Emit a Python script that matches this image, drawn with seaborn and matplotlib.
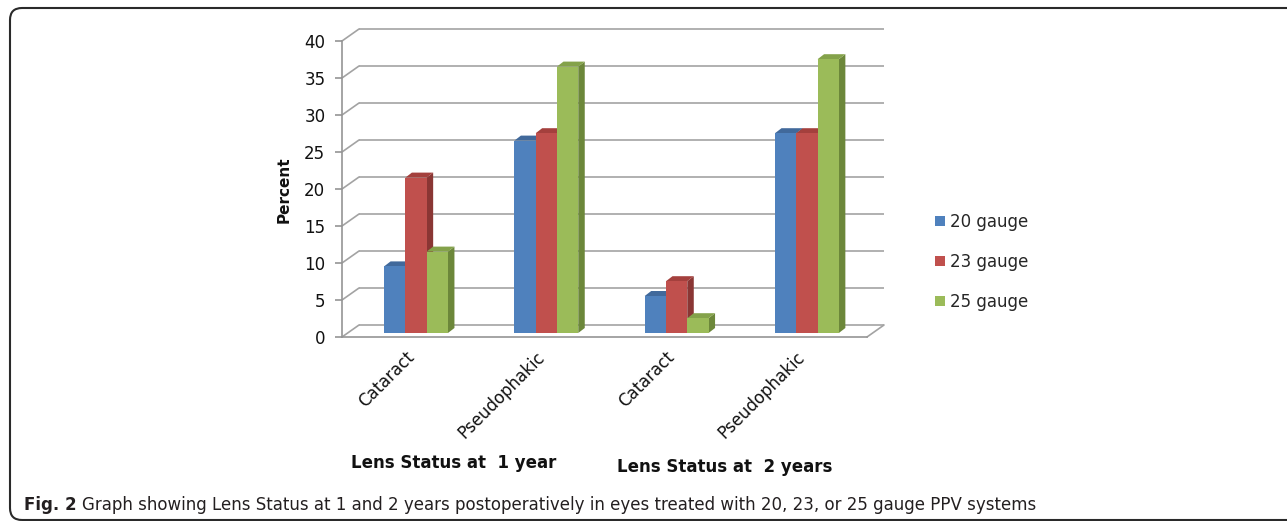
import numpy as np
import pandas as pd
import matplotlib
matplotlib.use("Agg")
import matplotlib.pyplot as plt
from matplotlib.patches import Polygon, FancyBboxPatch
from matplotlib.transforms import Affine2D, IdentityTransform
import seaborn as sns

# ---- data -------------------------------------------------------------
slots = ["1y_cataract", "1y_pseudophakic", "2y_cataract", "2y_pseudophakic"]
slot_labels = ["Cataract", "Pseudophakic", "Cataract", "Pseudophakic"]
period_titles = ["Lens Status at  1 year", "Lens Status at  2 years"]
gauges = ["20 gauge", "23 gauge", "25 gauge"]
gauge_20 = [9, 26, 5, 27]
gauge_23 = [21, 27, 7, 27]
gauge_25 = [11, 36, 2, 37]
y_ticks = [0, 5, 10, 15, 20, 25, 30, 35, 40]
caption_tag = "Fig. 2"
caption_text = ("Graph showing Lens Status at 1 and 2 years postoperatively in eyes "
                "treated with 20, 23, or 25 gauge PPV systems")

# ---- styling ----------------------------------------------------------
front_colors = ["#4F81BD", "#C0504D", "#9BBB59"]
top_colors = ["#41699B", "#A4403D", "#84A24A"]
side_colors = ["#355887", "#8A3634", "#6C873A"]
grid_color = "#A3A3A3"
axis_color = "#959595"

sns.set_style("white")
plt.rcParams["font.family"] = ["DejaVu Sans"]

df = pd.DataFrame({
    "slot": slots * 3,
    "gauge": np.repeat(gauges, len(slots)),
    "percent": gauge_20 + gauge_23 + gauge_25,
})

W, H = 1287, 521
fig = plt.figure(figsize=(W / 100, H / 100), dpi=100)
fig.patch.set_facecolor("white")

# plot frame (front plane of the pseudo-3D box), in pixels
left_px, right_px, zero_px, top_px = 342, 867, 337, 41
ax = fig.add_axes([left_px / W, (H - zero_px) / H,
                   (right_px - left_px) / W, (zero_px - top_px) / H])
ax.set_facecolor("none")

sns.barplot(data=df, x="slot", y="percent", hue="gauge", order=slots,
            hue_order=gauges, palette=front_colors, saturation=1,
            width=0.49, gap=0, errorbar=None, linewidth=0, ax=ax)

xl, xr = -0.522, 3.507
ax.set_xlim(xl, xr)
ax.set_ylim(0, 40)

ppu_x = (right_px - left_px) / (xr - xl)
ppu_y = (zero_px - top_px) / 40.0

# depth offsets (pixels -> data units)
BX, BY = 17 / ppu_x, 12 / ppu_y      # back wall
DX, DY = 6.5 / ppu_x, 5 / ppu_y      # bar depth
bar_shift = ax.transData + Affine2D().translate(6, 4)

# bars: front face from seaborn, plus side and top faces
bars = []
for i, cont in enumerate(ax.containers):
    for p in cont.patches:
        bars.append((p.get_x(), i, p))
bars.sort(key=lambda b: b[0])
for k, (_, i, p) in enumerate(bars):
    x0, w, h = p.get_x(), p.get_width(), p.get_height()
    z = 3 + 3 * k
    side = Polygon([(x0 + w, 0), (x0 + w + DX, DY), (x0 + w + DX, h + DY), (x0 + w, h)],
                   closed=True, facecolor=side_colors[i], edgecolor="none",
                   transform=bar_shift, zorder=z)
    top = Polygon([(x0, h), (x0 + DX, h + DY), (x0 + w + DX, h + DY), (x0 + w, h)],
                  closed=True, facecolor=top_colors[i], edgecolor="none",
                  transform=bar_shift, zorder=z)
    ax.add_patch(side)
    ax.add_patch(top)
    p.set_transform(bar_shift)
    p.set_zorder(z + 1)

# back wall gridlines, left wall diagonals and floor edge
for v in y_ticks:
    ax.plot([xl + BX, xr + BX], [v + BY, v + BY], color=grid_color, lw=1.2,
            clip_on=False, zorder=0.5, solid_capstyle="butt")
    ax.plot([xl, xl + BX], [v, v + BY], color=grid_color, lw=1.2,
            clip_on=False, zorder=0.5)
ax.plot([xr, xr + BX], [0, BY], color=grid_color, lw=1.2, clip_on=False, zorder=0.5)

for s in ["top", "right"]:
    ax.spines[s].set_visible(False)
for s in ["left", "bottom"]:
    ax.spines[s].set_color(axis_color)
    ax.spines[s].set_linewidth(1.2)

ax.set_yticks(y_ticks)
ax.tick_params(axis="y", length=5, width=1.2, color=axis_color, pad=7,
               labelsize=12, labelcolor="#111111", left=True)
ax.set_xticks(range(len(slots)))
ax.set_xticklabels(slot_labels, rotation=45, ha="right", va="top",
                   rotation_mode="anchor", fontsize=12, color="#111111")
ax.tick_params(axis="x", length=0, pad=8)
label_shift = Affine2D().translate(-5, 0)
for lbl in ax.get_xticklabels():
    lbl.set_transform(lbl.get_transform() + label_shift)

ax.set_xlabel("")
ax.set_ylabel("Percent", fontsize=11, fontweight="bold", color="#111111")
ax.yaxis.set_label_coords((292 - left_px) / (right_px - left_px),
                          (zero_px - 190) / (zero_px - top_px))

# period titles under the category labels
fig.text(454 / W, 1 - 463 / H, period_titles[0], ha="center", va="center",
         fontsize=12, fontweight="bold", color="#111111")
fig.text(725 / W, 1 - 467 / H, period_titles[1], ha="center", va="center",
         fontsize=12, fontweight="bold", color="#111111")

# legend to the right of the box
leg = ax.get_legend()
handles = leg.legend_handles
labels = [t.get_text() for t in leg.get_texts()]
leg.remove()
fig.legend(handles, labels, loc="center left",
           bbox_to_anchor=(935 / W, 1 - 262 / H), frameon=False,
           fontsize=12, handlelength=0.6, handleheight=0.6,
           handletextpad=0.3, labelspacing=1.32, borderpad=0, borderaxespad=0)

# caption
t1 = fig.text(24 / W, 1 - 510 / H, caption_tag, fontsize=12, fontweight="bold",
              color="#231F20", va="baseline")
ax.annotate(caption_text, xy=(1, 0), xycoords=t1, xytext=(5, 0),
            textcoords="offset pixels", va="bottom", ha="left",
            fontsize=12, color="#231F20", annotation_clip=False)

# rounded frame around the figure panel
frame = FancyBboxPatch((10, 1), 1330, 512,
                       boxstyle="round,pad=0,rounding_size=12",
                       transform=IdentityTransform(), fill=False,
                       edgecolor="#2A2A2A", linewidth=1.5)
fig.add_artist(frame)

fig.savefig("out.png", dpi=100)
